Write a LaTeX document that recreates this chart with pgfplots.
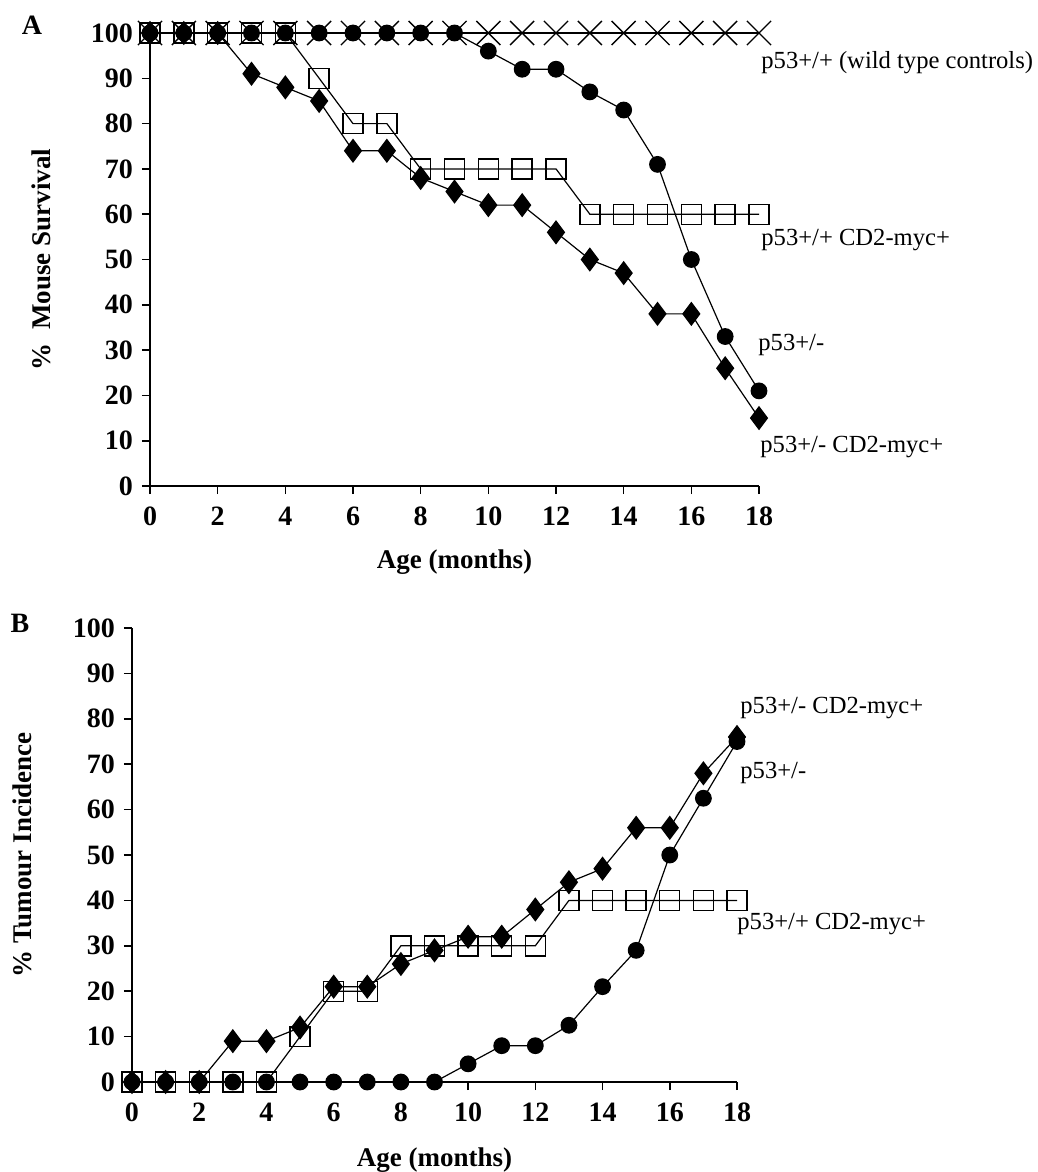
\documentclass[border=0pt]{standalone}
\usepackage{fontspec}
\setmainfont{Liberation Serif}
\usepackage{pgfplots}
\usepackage{pgfplotstable}
\pgfplotsset{compat=1.18}

% survival (panel A): wt = p53+/+, het = p53+/-, myc = p53+/+ CD2-myc+, hetmyc = p53+/- CD2-myc+
\pgfplotstableread{
month wt  het  myc hetmyc
0     100 100  100 100
1     100 100  100 100
2     100 100  100 100
3     100 100  100 91
4     100 100  100 88
5     100 100  90  85
6     100 100  80  74
7     100 100  80  74
8     100 100  70  68
9     100 100  70  65
10    100 96   70  62
11    100 92   70  62
12    100 92   70  56
13    100 87   60  50
14    100 83   60  47
15    100 71   60  38
16    100 50   60  38
17    100 33   60  26
18    100 21   60  15
}\survival

% tumour incidence (panel B)
\pgfplotstableread{
month het  myc hetmyc
0     0    0   0
1     0    0   0
2     0    0   0
3     0    0   9
4     0    0   9
5     0    10  12
6     0    20  21
7     0    20  21
8     0    30  26
9     0    30  29
10    4    30  32
11    8    30  32
12    8    30  38
13    12.5 40  44
14    21   40  47
15    29   40  56
16    50   40  56
17    62.5 40  68
18    75   40  76
}\tumour

\pgfplotsset{
  panel/.style={
    scale only axis,
    axis lines=left,
    axis line style={-, line width=1.3pt},
    xmin=0, xmax=18, ymin=0, ymax=100,
    xtick={0,2,...,18}, ytick={0,10,...,100},
    tick align=outside,
    major tick length=4pt,
    tick style={line width=0.8pt, black},
    /pgf/number format/assume math mode=true,
    ticklabel style={font=\fontsize{14}{15}\selectfont\bfseries},
    xticklabel style={yshift=-3pt},
    yticklabel style={xshift=-1pt},
    label style={font=\fontsize{13.5}{14}\selectfont\bfseries},
    clip=false,
    every axis plot/.append style={black, line width=0.6pt},
  },
  xs/.style={mark=x, mark size=8.5pt, mark options={line width=0.7pt}},
  sq/.style={mark=square, mark size=5pt, mark options={line width=0.7pt}},
  ci/.style={mark=*, mark size=3.9pt},
  di/.style={mark=diamond*, mark size=5.6pt},
}

\newcommand{\ann}{\fontsize{12.3}{13}\selectfont}

\begin{document}
\begin{tikzpicture}
\path[use as bounding box] (0,0) rectangle (519pt,-586pt);

% panel A
\begin{axis}[panel,
  at={(75pt,-243pt)}, anchor=south west,
  width=304.5pt, height=226.5pt,
  xlabel={Age (months)}, ylabel={\%\enspace Mouse Survival},
  xlabel style={at={(axis description cs:0.5,-0.168)}, anchor=center},
  ylabel style={at={(axis description cs:-0.179,0.5)}, anchor=center},
]
\addplot[xs] table[x=month, y=wt] {\survival};
\addplot[sq] table[x=month, y=myc] {\survival};
\addplot[ci] table[x=month, y=het] {\survival};
\addplot[di] table[x=month, y=hetmyc] {\survival};
\end{axis}

% panel B
\begin{axis}[panel,
  at={(66pt,-541pt)}, anchor=south west,
  width=302.5pt, height=227pt,
  xlabel={Age (months)}, ylabel={\% Tumour Incidence},
  xlabel style={at={(axis description cs:0.5,-0.172)}, anchor=center},
  ylabel style={at={(axis description cs:-0.182,0.5)}, anchor=center},
]
\addplot[sq] table[x=month, y=myc] {\tumour};
\addplot[ci] table[x=month, y=het] {\tumour};
\addplot[di] table[x=month, y=hetmyc] {\tumour};
\end{axis}

% panel letters
\node[font=\fontsize{14}{15}\selectfont\bfseries] at (16pt,-12.5pt) {A};
\node[font=\fontsize{14}{15}\selectfont\bfseries] at (10pt,-311.5pt) {B};

% series names
\begin{scope}[every node/.style={anchor=west, inner sep=0pt, font=\ann}]
\node at (380.5pt,-31.5pt) {p53+/+ (wild type controls)};
\node at (380.5pt,-120pt) {p53+/+ CD2-myc+};
\node at (379pt,-172.5pt) {p53+/-};
\node at (380pt,-223.5pt) {p53+/- CD2-myc+};
\node at (370pt,-354pt) {p53+/- CD2-myc+};
\node at (370pt,-386.5pt) {p53+/-};
\node at (368.5pt,-462pt) {p53+/+ CD2-myc+};
\end{scope}
\end{tikzpicture}
\end{document}
